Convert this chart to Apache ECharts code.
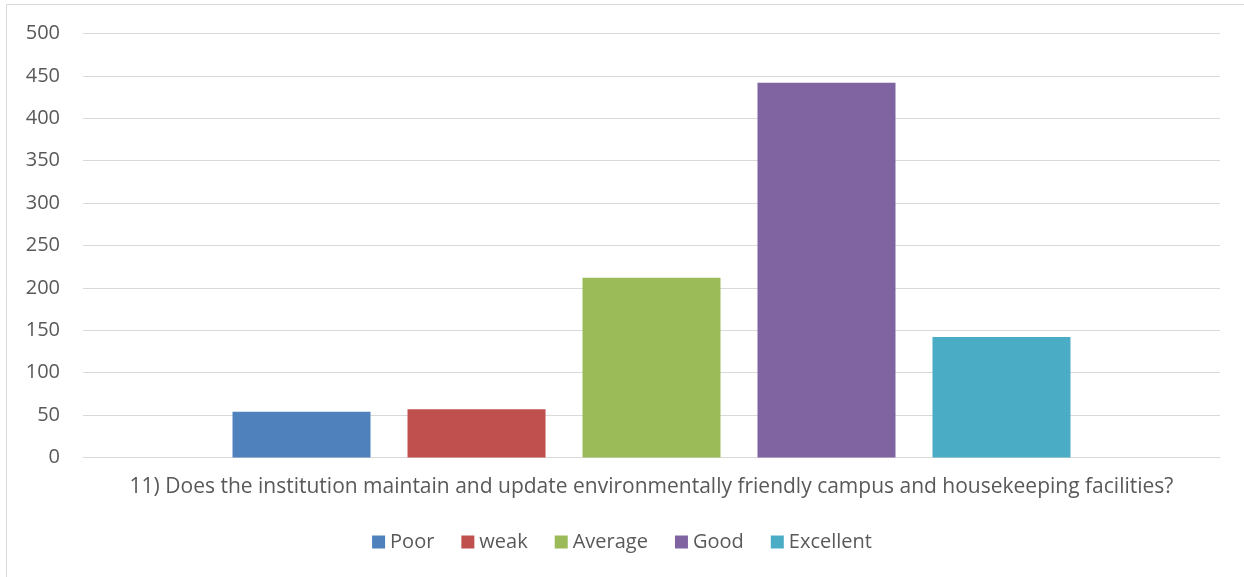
<!DOCTYPE html>
<html>
<head>
<meta charset="utf-8">
<script src="https://cdn.jsdelivr.net/npm/echarts@6/dist/echarts.min.js"></script>
<style>
  html, body { margin: 0; padding: 0; background: #fff; }
  #chart { width: 1244px; height: 577px; }
</style>
</head>
<body>
<div id="chart"></div>
<script>
var category = ['11) Does the institution maintain and update environmentally friendly campus and housekeeping facilities?'];
var seriesNames = ['Poor', 'weak', 'Average', 'Good', 'Excellent'];
var seriesValues = [54, 57, 212, 442, 142];
var seriesColors = ['#4f81bd', '#c0504d', '#9bbb59', '#8064a2', '#4bacc6'];

var myChart = echarts.init(document.getElementById('chart'));
var font = '"Open Sans", sans-serif';

var series = seriesNames.map(function(name, i) {
  return {
    name: name,
    type: 'bar',
    data: [seriesValues[i]],
    barGap: '26.8%',
    barCategoryGap: '26.3%',
    itemStyle: { color: seriesColors[i] }
  };
});

var option = {
  animation: false,
  backgroundColor: '#fff',
  graphic: [{
    type: 'rect',
    shape: { x: 6.5, y: 4.5, width: 1300, height: 700 },
    style: { fill: 'none', stroke: '#d9d9d9', lineWidth: 1 },
    silent: true
  }],
  grid: { left: 83, right: 24, top: 33.5, bottom: 119.5 },
  legend: {
    data: seriesNames,
    bottom: 20,
    left: 'center',
    itemWidth: 13,
    itemHeight: 13,
    itemGap: 27,
    icon: 'rect',
    textStyle: { color: '#595959', fontSize: 20, fontFamily: font }
  },
  xAxis: {
    type: 'category',
    data: category,
    axisLine: { lineStyle: { color: '#d9d9d9', width: 1 } },
    axisTick: { show: false },
    axisLabel: { color: '#595959', fontSize: 21, fontFamily: font, margin: 19 }
  },
  yAxis: {
    type: 'value',
    min: 0,
    max: 500,
    interval: 50,
    axisLine: { show: false },
    axisTick: { show: false },
    splitLine: { lineStyle: { color: '#d9d9d9', width: 1 } },
    axisLabel: { color: '#595959', fontSize: 20, fontFamily: font, margin: 23 }
  },
  series: series
};
myChart.setOption(option);
</script>
</body>
</html>
